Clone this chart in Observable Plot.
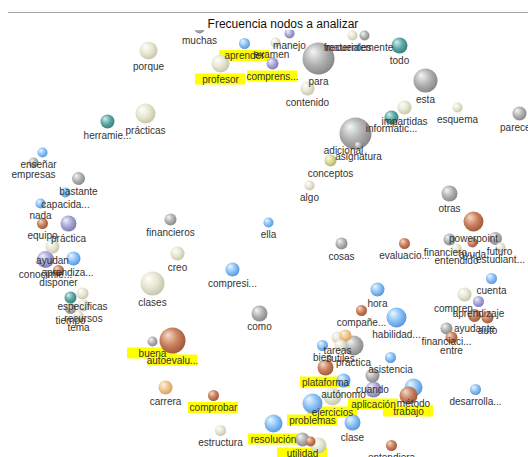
<!DOCTYPE html>
<html><head><meta charset="utf-8">
<script src="https://cdn.jsdelivr.net/npm/d3@7"></script>
<script src="https://cdn.jsdelivr.net/npm/@observablehq/plot@0.6"></script>
<style>
body{margin:0;background:#fff;width:528px;height:457px;overflow:hidden;position:relative;font-family:"Liberation Sans",Arial,sans-serif;}
#rule{position:absolute;left:8px;top:12px;width:520px;height:0;border-top:1px solid #a6a6a6;}
#title{position:absolute;left:0;width:566px;text-align:center;top:17px;font-size:12px;color:#111;line-height:14px;}
#chart{position:absolute;left:0;top:30px;}
</style></head><body>
<div id="rule"></div><div id="title">Frecuencia nodos a analizar</div><div id="chart"></div>
<script>
const words = ["muchas","porque","examen","manejo","aprender","comprens...","profesor","materiales","frecuentemente","para",
"todo","contenido","esta","esquema","parece...","impartidas","informátic...","herramie...","prácticas","asignatura",
"adicional","conceptos","algo","enseñar","empresas","bastante","capacida...","nada","equipo","práctica",
"ayudan","conocimie...","aprendiza...","disponer","","específicas","recursos","tiempo","tema","financieros",
"ella","creo","compresi...","clases","como","cosas","evaluacio...","otras","powerpoint","financiero...",
"futuro","ayuda","entendido","estudiant...","cuenta","compren...","aprendizaje","ayudante","auto","financiaci...",
"entre","desarrolla...","hora","compañe...","habilidad...","bien","tareas","","sutiles","práctica",
"plataforma","autónomo","asistencia","cuando","aplicación","método","trabajo","ejercicios","problemas","clase",
"resolución","","utilidad","","entendiera","estructura","comprobar","carrera","buena","autoevalu..."];
const nodeX = [199,148,275,289,244,272,220,352,364,318,
399,307,425,457,519,404,391,107,145,358,
355,330,309,42,33,78,65,40,42,68,
52,45,73,58,70,82,83,70,78,170,
268,177,232,152,259,341,404,449,473,449,
495,472,456,500,491,464,478,474,487,446,
451,475,377,361,396,322,337,345,340,353,
325,343,390,372,373,413,408,332,312,352,
273,310,302,318,391,220,213,165,152,172];
const nodeY = [28,50,42,33,43,63,63,35,35,58,
45,88,80,107,113,107,117,121,113,145,
133,160,185,152,162,178,192,203,223,223,
246,259,258,270,297,293,305,308,315,219,
222,253,269,283,313,243,243,193,221,239,
238,242,248,247,278,294,301,315,317,328,
337,389,289,310,317,345,337,335,345,345,
367,380,357,375,389,387,395,396,403,422,
423,441,439,445,445,430,395,387,341,340];
const nodeSize = [5,9,5,5,5.5,6,9,5,5,16,
8,7,12,5,7,7,7,7,10,4,
16,6,5,5,5,6.5,5,5,5.5,8,
7,8.5,7,5.5,6,6,6,5.5,5,6,
5,7,7,12,8,6,5.5,8,10,6,
6.5,5,5,5,5.5,7,5.5,6.5,6,6,
6,5.5,7,5.5,10,5.5,6,6,6,10,
8,7,5.5,7,8,9,9,9,10,8,
9,5,7,8,5.5,5.5,5.5,7,5,13];
const nodeGroup = ["gray","cream","cream","lavender","blue","lavender","cream","cream","gray","gray",
"teal","cream","gray","cream","gray","cream","teal","teal","cream","gray",
"gray","olive","cream","blue","gray","gray","blue","blue","orange","lavender",
"cream","lavender","blue","orange","teal","cream","cream","gray","cream","gray",
"blue","cream","blue","cream","gray","gray","orange","gray","orange","gray",
"gray","orange","cream","cream","blue","cream","lavender","orange","orange","gray",
"orange","blue","blue","orange","blue","blue","cream","peach","cream","gray",
"orange","blue","blue","gray","lavender","blue","orange","cream","blue","blue",
"blue","orange","gray","cream","orange","cream","orange","peach","gray","orange"];
const highlighted = ["aprender","comprens...","profesor","plataforma","ejercicios","problemas","aplicación","trabajo","resolución","utilidad","comprobar","buena","autoevalu..."];
const labelShift = {"examen":[-4,0],"materiales":[-4,0],"frecuentemente":[-6,0],"informátic...":[0,-3],"adicional":[-12,-6],"enseñar":[-4,0],"aprendiza...":[-6,0],"como":[0,-2],"futuro":[4,0],"compren...":[-7,0]};

const palette = {
  gray:["#f6f6f6","#b2b2b2","#858585"],
  cream:["#ffffff","#e6e6d2","#c4c4aa"],
  blue:["#eef7ff","#8cc2f6","#5592dc"],
  teal:["#d2efee","#5ea8a5","#387c79"],
  lavender:["#f0f0ff","#aaa8d6","#7b78b2"],
  orange:["#f8dccb","#c9825f","#9c5538"],
  peach:["#fff4e4","#efc690","#d39c5c"],
  olive:["#fafae2","#d8d898","#b0b06a"]
};

const nodes = words.map((w,i)=>{
  const s = labelShift[w] || [0,0];
  const r = nodeSize[i];
  return {w, x:nodeX[i], y:nodeY[i], r, g:nodeGroup[i], hl: highlighted.includes(w),
    lx: nodeX[i] + s[0], ly: nodeY[i] + r + 7 + s[1]};
});

const plot = Plot.plot({
  width:528, height:427, margin:0,
  x:{domain:[0,528], range:[0,528], axis:null},
  y:{domain:[30,457], range:[0,427], axis:null},
  r:{type:"linear", domain:[0,20], range:[0,20]},
  color:{type:"identity"},
  style:{fontFamily:"'Liberation Sans', Arial, sans-serif", fontSize:"10px", overflow:"hidden", background:"#fff"},
  marks:[
    Plot.rect(nodes.filter(d=>d.hl), {x1:d=>d.x-25, x2:d=>d.x+25, y1:d=>d.ly-5.5, y2:d=>d.ly+5.5, fill:"#ffff00"}),
    Plot.dot(nodes, {x:"x", y:"y", r:"r", fill:d=>`url(#grad-${d.g})`}),
    Plot.text(nodes.filter(d=>d.w), {x:"lx", y:"ly", text:"w", fill:"#333", fontSize:10})
  ]
});

const svg = d3.select(plot);
const defs = svg.insert("defs", ":first-child");
for (const [g,[a,b,c]] of Object.entries(palette)) {
  const rg = defs.append("radialGradient").attr("id","grad-"+g)
    .attr("cx","0.42").attr("cy","0.42").attr("r","0.62").attr("fx","0.32").attr("fy","0.28");
  rg.append("stop").attr("offset","0").attr("stop-color",a);
  rg.append("stop").attr("offset","0.55").attr("stop-color",b);
  rg.append("stop").attr("offset","1").attr("stop-color",c);
}
document.getElementById("chart").appendChild(plot);
</script>
</body></html>
